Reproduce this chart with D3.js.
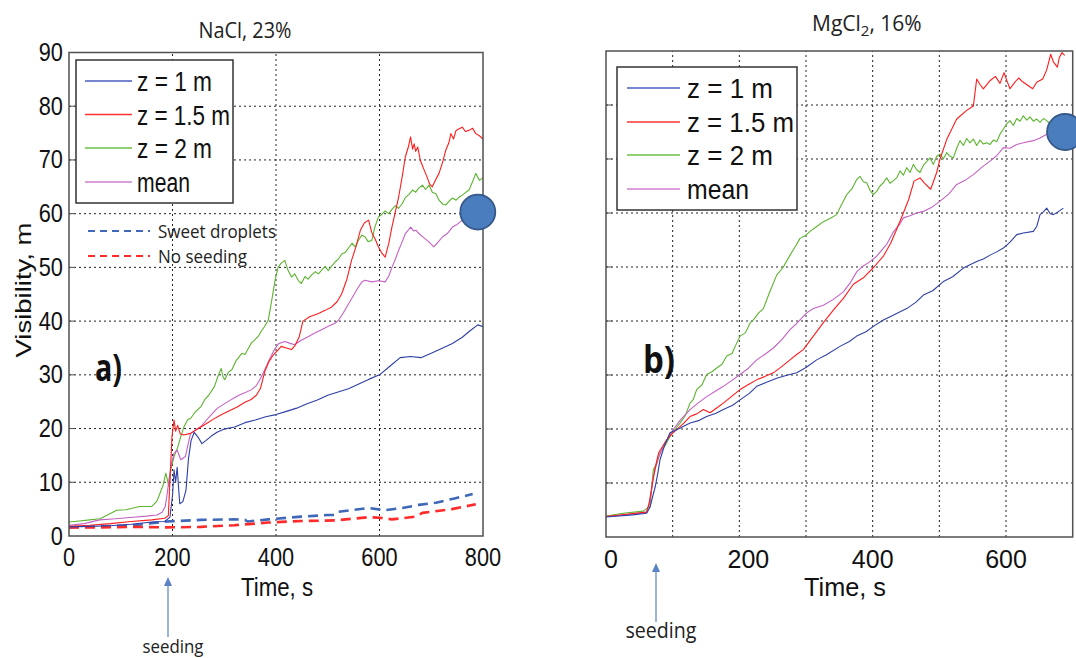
<!DOCTYPE html>
<html><head><meta charset="utf-8">
<script src="https://cdn.jsdelivr.net/npm/d3@7"></script>
<style>body{margin:0;background:#fff;} svg{display:block;}</style>
</head><body>
<svg id="c" width="1076" height="658"></svg>
<script>
// ---------------- DATA: panel a) NaCl 23% ----------------
const naclTicksX = [0, 200, 400, 600, 800];
const ticksY = [0, 10, 20, 30, 40, 50, 60, 70, 80, 90];

const naclZ1_t = [0,40,80,120,160,185,195,200,203,206,209,214,220,226,231,236,242,250,257,265,275,286,300,320,340,360,380,400,420,440,460,480,500,520,540,560,580,600,620,640,660,680,700,720,740,760,775,790,802];
const naclZ1_v = [1.7,1.8,1.9,2.2,2.6,2.7,3.5,7.5,12.3,10.0,12.8,6.0,6.4,8.5,14.5,17.8,19.3,18.3,17.2,17.8,18.6,19.3,19.9,20.3,21.1,21.6,22.2,22.6,23.2,23.8,24.6,25.3,26.2,26.8,27.4,28.3,29.2,30.0,31.6,33.2,33.4,33.2,34.0,34.9,35.8,37.0,38.2,39.3,38.9];

const naclZ15_t = [0,40,80,120,160,185,192,196,199,203,206,210,215,222,235,250,265,280,295,310,325,340,352,362,370,378,386,394,402,410,420,430,437,445,452,465,482,495,507,518,527,537,546,555,563,571,579,585,592,598,605,611,618,624,631,637,644,650,656,660,664,667,670,674,679,686,692,697,702,708,715,722,728,734,738,743,748,754,760,766,773,780,786,793,802];
const naclZ15_v = [1.8,2.0,2.3,2.7,3.0,3.3,3.8,12.3,18.5,21.6,19.5,20.6,19.0,18.8,19.1,20.0,20.9,21.8,22.6,23.3,24.0,24.9,25.4,26.2,27.5,30.5,32.4,33.6,34.4,35.3,35.0,34.7,35.5,37.1,40.0,40.8,41.4,42.0,42.6,43.6,45.1,47.8,51.3,54.0,56.9,58.3,58.8,56.5,55.2,53.8,52.6,51.9,54.5,57.5,60.5,63.1,67.0,70.6,72.5,74.3,72.0,73.0,71.6,72.4,69.9,68.2,66.8,65.5,65.0,66.2,67.5,69.6,71.8,73.2,74.9,73.9,75.5,75.8,76.1,75.3,75.5,75.9,74.9,74.5,73.7];

const naclZ2_t = [0,20,40,60,80,92,110,137,160,170,176,182,187,190,193,197,203,210,216,222,229,236,243,255,263,270,281,287,294,298,301,308,315,322,334,340,347,353,359,366,372,378,385,392,398,404,410,417,423,430,436,443,449,456,462,469,476,482,489,495,501,508,514,521,527,534,540,547,553,559,566,572,578,585,591,598,604,611,618,624,631,637,644,650,657,664,670,676,683,689,696,702,709,715,722,728,735,741,748,754,761,767,773,780,786,793,802];
const naclZ2_v = [2.6,2.8,3.0,3.2,4.2,4.8,4.9,5.5,5.5,6.5,8.0,9.5,11.7,10.5,9.2,12.5,14.8,16.5,18.5,20.3,21.6,22.0,23.0,24.1,25.5,26.2,27.8,29.5,31.2,29.5,29.1,30.5,31.0,32.5,34.0,33.8,35.0,36.0,36.5,37.2,38.2,39.0,40.2,44.0,47.5,50.0,50.8,51.3,49.5,48.2,48.8,47.6,47.0,48.3,47.8,48.6,49.2,48.8,49.6,50.2,49.4,50.3,51.0,51.6,52.5,52.8,53.6,54.5,53.8,55.0,56.0,55.7,54.8,55.0,57.5,59.4,59.8,60.5,60.0,60.8,61.5,61.0,61.9,63.0,63.6,64.4,64.0,64.8,65.3,64.5,65.3,64.0,63.7,62.5,61.8,61.6,62.4,62.9,62.5,63.1,63.5,64.0,64.4,66.0,67.5,66.2,66.8];

const naclMean_t = [0,30,59,90,124,150,170,180,186,190,193,198,203,209,216,225,230,235,245,255,265,275,287,300,310,319,330,341,352,362,370,378,388,397,405,417,426,436,448,462,475,488,500,514,521,530,540,550,559,566,572,585,598,611,618,624,631,637,644,650,656,660,666,671,676,686,696,705,714,722,731,741,750,760,770,780,790,800];
const naclMean_v = [2.0,2.3,3.0,3.2,3.5,3.7,3.9,4.4,5.5,8.0,10.4,13.5,15.4,16.0,14.2,14.8,17.0,19.1,19.8,20.4,21.5,22.6,23.8,24.6,25.2,25.7,26.3,26.7,27.2,28.0,29.3,30.9,33.0,34.7,35.8,36.2,35.9,35.6,36.4,37.1,37.8,38.4,39.0,39.6,40.2,41.5,43.2,44.8,46.3,47.3,47.6,47.3,47.5,47.3,48.4,50.0,51.6,53.2,54.8,56.3,57.0,57.5,56.8,56.9,56.3,55.5,54.7,53.8,54.8,55.7,56.3,57.5,58.0,58.8,59.4,60.0,60.3,60.5];

const naclSweet_t = [0,60,124,189,255,319,340,345,385,449,500,514,521,579,611,644,676,709,745,780];
const naclSweet_v = [1.6,1.8,2.0,2.7,3.0,3.1,3.0,2.7,3.1,3.6,3.9,3.9,4.5,5.2,4.8,5.2,5.8,6.2,7.0,7.8];
const naclNoSeed_t = [0,60,124,189,255,319,385,449,514,579,600,624,670,683,740,786];
const naclNoSeed_v = [1.6,1.6,1.7,1.6,1.7,2.0,2.5,2.8,2.9,3.5,3.4,3.1,3.6,4.3,5.0,5.9];

// ---------------- DATA: panel b) MgCl2 16% ----------------
const mgTicksX = [0, 200, 400, 600];
const mgZ1_t = [0,20,40,61,66,70,74,78,81,88,96,110,126,140,151,165,176,190,201,215,226,240,256,270,286,300,316,330,351,365,376,390,401,416,430,451,465,476,490,506,520,536,546,556,566,576,586,596,606,616,626,641,646,651,656,661,666,671,678,686];
const mgZ1_v = [3.7,3.9,4.1,4.4,5.5,7.5,9.4,12.0,14.3,17.0,19.3,20.1,21.1,21.6,22.3,22.9,23.6,24.4,25.4,26.6,27.9,28.6,29.4,29.9,30.4,31.4,32.8,33.7,35.3,36.2,37.2,38.0,39.0,40.2,41.0,42.3,43.5,44.8,45.6,47.3,48.2,49.8,50.4,51.0,51.5,52.2,52.8,53.5,54.6,56.0,56.3,56.6,57.5,59.7,60.2,60.9,59.9,59.7,60.2,60.9];

const mgZ15_t = [0,30,61,65,69,74,79,85,91,98,106,116,126,136,146,156,166,176,188,201,213,226,238,251,263,276,286,296,311,326,341,356,371,386,402,416,427,436,446,454,462,471,478,487,496,501,511,526,541,551,556,561,566,576,584,591,597,601,606,613,619,625,633,640,646,655,661,667,671,677,680,684,688];
const mgZ15_v = [3.8,4.2,4.6,6.5,9.4,13.0,15.6,16.8,18.0,19.0,19.9,21.0,22.3,22.8,23.6,23.0,23.9,24.8,26.0,27.3,28.2,29.1,29.7,30.4,31.5,32.8,33.8,34.7,37.2,39.7,42.0,44.2,46.8,48.0,50.0,52.0,54.4,57.0,60.0,62.5,65.9,66.5,65.5,64.4,67.5,70.0,73.6,77.4,79.0,79.8,84.8,83.8,83.0,84.5,85.3,84.0,86.0,84.6,83.0,84.2,85.0,84.3,83.6,83.0,84.2,84.8,86.5,89.4,88.0,87.0,88.8,89.7,89.2];

const mgZ2_t = [0,26,56,66,71,76,81,89,96,104,111,119,126,131,136,144,151,159,166,174,181,189,196,201,209,216,221,229,236,246,256,266,276,284,291,299,306,316,326,336,346,353,361,369,376,381,386,391,396,401,406,411,416,421,426,431,436,441,446,451,456,461,466,471,476,481,486,491,496,501,506,511,516,521,526,531,536,541,546,551,556,561,566,571,576,581,586,591,596,601,606,611,616,621,626,631,636,641,646,651,656,661,666,671,676,681,686];
const mgZ2_v = [3.9,4.4,4.8,5.7,12.5,13.5,15.6,17.0,18.6,20.0,21.1,22.5,24.8,25.5,27.3,28.2,30.1,30.6,31.3,32.0,33.5,34.0,35.9,37.2,37.8,39.6,40.2,41.5,42.3,45.5,48.5,50.0,52.2,53.8,55.3,55.8,56.6,57.5,58.4,59.0,59.7,61.5,63.4,64.5,66.2,66.8,65.8,65.6,64.2,63.4,64.0,65.0,65.6,66.5,65.5,66.0,66.5,67.8,67.0,68.4,67.5,69.0,68.0,67.5,68.8,69.5,70.2,69.0,70.5,70.9,70.0,71.2,70.5,70.2,72.0,73.4,72.5,73.8,73.0,73.7,72.5,73.5,72.8,73.0,72.7,73.5,73.2,74.6,75.5,76.5,77.1,76.2,77.5,77.0,78.0,77.2,77.8,77.0,77.4,76.8,77.5,77.1,76.5,77.0,76.3,76.8,76.0];

const mgMean_t = [0,30,61,66,71,78,86,94,101,111,126,138,151,164,176,189,201,214,226,238,251,264,276,284,291,301,311,326,341,356,366,376,386,396,406,416,421,431,441,446,456,466,476,488,501,514,526,538,551,564,576,586,596,606,616,626,641,651,661,671,680,690];
const mgMean_v = [3.8,4.1,4.6,6.5,11.2,14.5,16.8,18.5,19.9,21.6,23.6,24.8,26.0,27.0,27.9,29.0,30.1,31.3,32.8,33.8,35.0,36.6,38.4,39.3,40.2,41.5,42.3,42.9,44.0,45.4,47.0,49.1,50.2,51.0,52.0,53.5,54.2,56.5,58.0,59.1,59.5,60.0,60.3,61.0,62.2,63.5,65.3,66.0,67.1,68.5,69.6,70.6,72.1,72.0,72.7,73.0,73.4,73.9,74.6,75.2,75.6,76.0];

const seriesLabels = ["z = 1 m", "z = 1.5 m", "z = 2 m", "mean"];
const seriesColors = ["#2f3fa6", "#ff1c1c", "#5db530", "#c462c4"];
const legendColors = ["#4a5cc0", "#ff3333", "#6cbf45", "#cf7fcf"];
const refLabels = ["Sweet droplets", "No seeding"];
const refColors = ["#3f68b8", "#ff2a2a"];

// ---------------- DRAWING ----------------
const svg = d3.select("#c");
const SANS = "'Liberation Sans', Arial, sans-serif";
const CAL = "'Open Sans', Lato, sans-serif";

function label(g, s, x, y, o) {
  const t = g.append("text").text(s)
    .attr("font-family", o.family || SANS)
    .attr("font-size", o.size)
    .attr("fill", o.fill || "#111");
  if (o.weight) t.attr("font-weight", o.weight);
  if (o.len) {
    t.attr("textLength", o.len).attr("lengthAdjust", "spacingAndGlyphs");
    const x0 = o.anchor === "middle" ? x - o.len / 2 : x;
    t.attr("x", x0).attr("y", y);
  } else {
    t.attr("x", x).attr("y", y).attr("text-anchor", o.anchor || "start");
  }
  return t;
}

function panel(p) {
  const g = svg.append("g");
  const x = d3.scaleLinear().domain(p.xDomain).range(p.xRange);
  const y = d3.scaleLinear().domain([0, 90]).range(p.yRange);
  const [x0, x1] = p.xRange, [y0, y1] = p.yRange;

  // grid
  g.append("g").selectAll("line").data(p.xGrid).join("line")
    .attr("x1", d => x(d)).attr("x2", d => x(d)).attr("y1", y0).attr("y2", y1)
    .attr("stroke", "#222").attr("stroke-width", 1).attr("stroke-dasharray", "2,3");
  g.append("g").selectAll("line").data(ticksY.slice(1, -1)).join("line")
    .attr("y1", d => y(d)).attr("y2", d => y(d)).attr("x1", x0).attr("x2", x1)
    .attr("stroke", "#222").attr("stroke-width", 1).attr("stroke-dasharray", "2,3");

  // clip
  svg.append("clipPath").attr("id", "clip" + p.id).append("rect")
    .attr("x", x0).attr("y", y1).attr("width", x1 - x0).attr("height", y0 - y1);

  const line = d3.line().x(d => x(d[0])).y(d => y(d[1]));
  p.series.forEach(s => {
    g.append("path").datum(d3.zip(s.t, s.v))
      .attr("d", line).attr("fill", "none")
      .attr("stroke", s.color).attr("stroke-width", s.width || 1.1)
      .attr("stroke-dasharray", s.dash || null)
      .attr("stroke-linejoin", "round")
      .attr("clip-path", `url(#clip${p.id})`);
  });

  // frame
  g.append("rect").attr("x", x0).attr("y", y1).attr("width", x1 - x0).attr("height", y0 - y1)
    .attr("fill", "none").attr("stroke", "#505050").attr("stroke-width", 1.5);

  // inner ticks on left side
  g.append("g").selectAll("line").data(ticksY.slice(1, -1)).join("line")
    .attr("x1", x0).attr("x2", x0 + 6).attr("y1", d => y(d)).attr("y2", d => y(d))
    .attr("stroke", "#505050").attr("stroke-width", 1);

  // x axis labels
  const ax = g.append("g").attr("transform", `translate(0,${y0})`)
    .call(d3.axisBottom(x).tickValues(p.xTicks).tickSize(0).tickPadding(p.xPad).tickFormat(d3.format("d")));
  ax.select(".domain").remove();
  ax.selectAll("text").attr("font-family", SANS).attr("font-size", 25).attr("fill", "#111")
    .attr("transform", `scale(${p.sx},1)`);
  ax.selectAll(".tick").attr("transform", d => `translate(${x(d) + (p.xOff ? p.xOff(d) : 0)},0)`);

  if (p.yLabels) {
    const ay = g.append("g").attr("transform", `translate(${x0},0)`)
      .call(d3.axisLeft(y).tickValues(ticksY).tickSize(0).tickPadding(7).tickFormat(d3.format("d")));
    ay.select(".domain").remove();
    ay.selectAll("text").attr("font-family", SANS).attr("font-size", 25).attr("fill", "#111")
      .attr("transform", `scale(${p.sx},1)`);
  }

  // legend
  const L = p.legend;
  g.append("rect").attr("x", L.x).attr("y", L.y).attr("width", L.w).attr("height", L.h)
    .attr("fill", "#fff").attr("stroke", "#333").attr("stroke-width", 1.5);
  seriesLabels.forEach((s, i) => {
    const ly = L.rows[i];
    g.append("line").attr("x1", L.lx0).attr("x2", L.lx1).attr("y1", ly).attr("y2", ly)
      .attr("stroke", legendColors[i]).attr("stroke-width", 1.4);
    label(g, s, L.tx, ly + L.dy, { size: 27, len: L.lens[i] });
  });

  // blue marker circle
  g.append("circle").attr("cx", x(p.dot[0])).attr("cy", y(p.dot[1])).attr("r", p.dot[2])
    .attr("fill", "#4a7dbd").attr("stroke", "#36598a").attr("stroke-width", 1.8);

  // seeding arrow
  const A = p.arrow;
  g.append("line").attr("x1", A.x).attr("x2", A.x).attr("y1", A.y1).attr("y2", A.y0 + 7)
    .attr("stroke", "#5a82c4").attr("stroke-width", 1.2);
  g.append("path").attr("d", `M${A.x},${A.y0} L${A.x - 4},${A.y0 + 9} L${A.x + 4},${A.y0 + 9} Z`)
    .attr("fill", "#5a82c4");
  label(g, "seeding", A.tx, A.ty, { size: A.size, family: CAL, anchor: "middle", len: A.len, fill: "#222" });

  return { g, x, y };
}

// ---- Panel a
const A = panel({
  id: "a", xDomain: [0, 800], xRange: [69, 483], yRange: [536, 52.5],
  xGrid: [200, 400, 600], xTicks: naclTicksX, xPad: 12, sx: 0.87, yLabels: true,
  series: [
    { t: naclSweet_t, v: naclSweet_v, color: refColors[0], width: 2.6, dash: "10,6" },
    { t: naclNoSeed_t, v: naclNoSeed_v, color: refColors[1], width: 2.6, dash: "10,6" },
    { t: naclZ2_t, v: naclZ2_v, color: seriesColors[2] },
    { t: naclMean_t, v: naclMean_v, color: seriesColors[3] },
    { t: naclZ15_t, v: naclZ15_v, color: seriesColors[1] },
    { t: naclZ1_t, v: naclZ1_v, color: seriesColors[0] }
  ],
  legend: { x: 76, y: 60, w: 157, h: 143, rows: [81, 114.5, 148, 182], lx0: 85, lx1: 132, tx: 137, dy: 10, lens: [75, 93, 75, 53] },
  dot: [790, 60.3, 17.5],
  arrow: { x: 168, y0: 577, y1: 637, tx: 173, ty: 653, size: 19, len: 61 }
});

// reference legend (dashed)
[231, 256].forEach((ly, i) => {
  A.g.append("line").attr("x1", 88).attr("x2", 150).attr("y1", ly).attr("y2", ly)
    .attr("stroke", refColors[i]).attr("stroke-width", 2).attr("stroke-dasharray", "7,5");
  label(A.g, refLabels[i], 158, ly + 7, { size: 19, family: CAL, len: i === 0 ? 118 : 89, fill: "#222" });
});

label(A.g, "NaCl, 23%", 245, 38, { size: 21, family: CAL, anchor: "middle", len: 93, fill: "#222" });
label(A.g, "Time, s", 277, 596, { size: 25, anchor: "middle", len: 72 });
A.g.append("text").text("Visibility, m")
  .attr("font-family", SANS).attr("font-size", 26).attr("fill", "#111")
  .attr("textLength", 135).attr("lengthAdjust", "spacingAndGlyphs")
  .attr("x", -67.5).attr("y", 0)
  .attr("transform", "translate(31,290) scale(0.85,1) rotate(-90)");
label(A.g, "a)", 95, 381, { size: 37, family: CAL, weight: "bold", len: 27 });

// ---- Panel b
const B = panel({
  id: "b", xDomain: [0, 700], xRange: [606, 1072.7], yRange: [537, 51],
  xGrid: [100, 200, 300, 400, 500, 600], xTicks: mgTicksX, xPad: 13, sx: 1, yLabels: false,
  xOff: d => (d === 0 ? 5 : d === 200 ? 9 : 0),
  series: [
    { t: mgZ2_t, v: mgZ2_v, color: seriesColors[2] },
    { t: mgMean_t, v: mgMean_v, color: seriesColors[3] },
    { t: mgZ15_t, v: mgZ15_v, color: seriesColors[1] },
    { t: mgZ1_t, v: mgZ1_v, color: seriesColors[0] }
  ],
  legend: { x: 617, y: 67, w: 180, h: 143, rows: [88, 122, 155, 189], lx0: 627, lx1: 680, tx: 687, dy: 10, lens: [86, 107, 86, 62] },
  dot: [688.5, 75, 18],
  arrow: { x: 656, y0: 563, y1: 622, tx: 661, ty: 638, size: 21, len: 71 }
});

const tb = B.g.append("text").attr("font-family", CAL).attr("font-size", 21).attr("fill", "#222")
  .attr("x", 812).attr("y", 31);
tb.append("tspan").text("MgCl");
tb.append("tspan").text("2").attr("font-size", 15).attr("dy", 5);
tb.append("tspan").text(",  16%").attr("dy", -5);
label(B.g, "Time, s", 845, 596, { size: 25, anchor: "middle", len: 82 });
label(B.g, "b)", 643, 373, { size: 38, family: CAL, weight: "bold", len: 32 });
</script>
</body></html>
